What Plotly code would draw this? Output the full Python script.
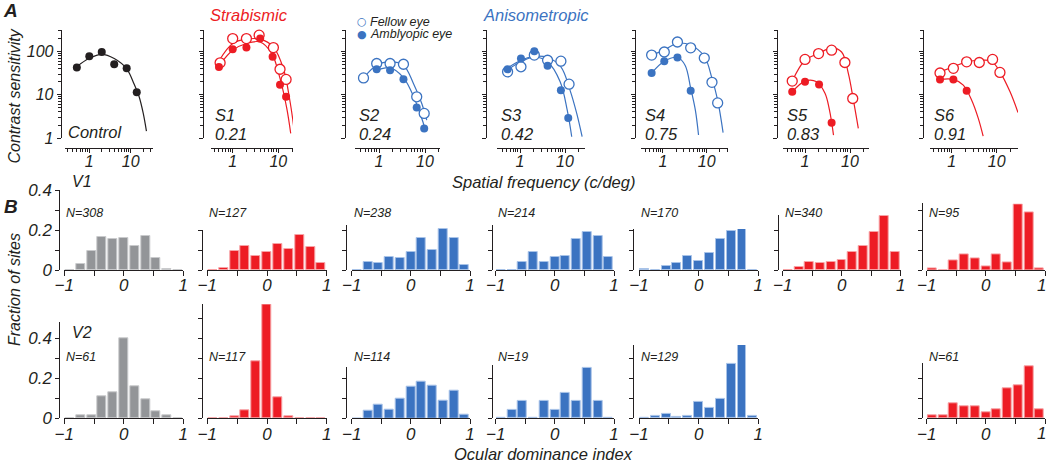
import plotly.graph_objects as go

W, H = 1050, 464
FONT = "Liberation Sans, Arial, Helvetica, sans-serif"
INK = "#231F20"
RED = "#ED1C24"
BLUE = "#3B73C1"
GRAY = "#939598"

# ---------------- panel A: contrast sensitivity data ----------------
ctrl_sf = [0.5, 1, 2, 4, 8, 14]
ctrl_cs = [43, 78, 98, 51, 41, 11.5]
ctrl_fit_sf = [0.5, 1, 2, 4, 8, 12, 16, 20, 24]
ctrl_fit_cs = [45, 70, 86, 69, 40, 18, 9, 3.8, 1.45]

s1_fel_sf = [0.53, 1.0, 2.0, 3.8, 7.8, 10.9, 14.8]
s1_fel_cs = [55, 200, 200, 240, 124, 39, 22.7]
s1_amb_sf = [0.5, 1.0, 2.0, 4.0, 7.5, 10.9, 14.8]
s1_amb_cs = [44, 114, 124, 200, 76, 17, 9]
s1_fel_fit_sf = [0.51, 1.0, 2.0, 3.97, 7.75, 12.9, 18.1, 22]
s1_fel_fit_cs = [63, 154, 194, 194, 129, 40.6, 6.9, 1.67]
s1_amb_fit_sf = [0.51, 1.0, 2.0, 4.0, 7.2, 10.9, 15.3, 18.7]
s1_amb_fit_cs = [48.6, 108, 154, 167, 90, 24, 4.9, 1.28]

s2_fel_sf = [0.46, 0.89, 1.74, 3.4, 6.6, 9.6]
s2_fel_cs = [24.6, 53, 53, 51, 9, 3.7]
s2_amb_sf = [0.89, 1.74, 3.4, 6.6, 9.6]
s2_amb_cs = [39, 37, 23, 5.1, 1.67]
s2_fel_fit_sf = [0.46, 0.89, 1.74, 3.4, 5.6, 8.5, 10.9]
s2_fel_fit_cs = [24.6, 48.5, 57.6, 48.5, 18.3, 6.3, 2.6]
s2_amb_fit_sf = [0.89, 1.74, 3.4, 6.1, 9.2, 10.3]
s2_amb_fit_cs = [37, 42, 25, 7.5, 2.2, 1.47]

s3_fel_sf = [0.53, 1.05, 2.08, 4.1, 8.1, 12.3]
s3_fel_cs = [34, 44.5, 83, 63, 60, 17.6]
s3_amb_sf = [0.53, 1.05, 2.08, 4.1, 8.1, 11.8]
s3_amb_cs = [39, 69, 102, 47, 12.8, 2.9]
s3_fel_fit_sf = [0.51, 1.05, 2.08, 4.1, 8.1, 12.9, 18.2, 24]
s3_fel_fit_cs = [40.6, 63, 78, 73, 44.5, 12.8, 3.7, 1.07]
s3_amb_fit_sf = [0.51, 1.05, 2.08, 4.1, 7.8, 11.2, 14.1]
s3_amb_fit_cs = [37, 58, 75, 58, 20, 4.4, 1.07]

s4_fel_sf = [0.55, 1.07, 2.14, 4.3, 8.8, 13.2, 17.8]
s4_fel_cs = [83, 98, 167, 122, 71, 19.4, 6.5]
s4_amb_sf = [0.55, 1.07, 2.14, 4.3]
s4_amb_cs = [32, 60, 73, 12.4]
s4_fel_fit_sf = [0.55, 1.05, 2.14, 4.3, 8.8, 13.2, 17.8, 23.7]
s4_fel_fit_cs = [83, 108, 156, 140, 78, 24, 7.5, 1.33]
s4_amb_fit_sf = [0.55, 1.07, 2.14, 3.2, 4.3, 5.5, 6.5]
s4_amb_fit_cs = [32, 60, 73, 48.5, 14.2, 4.4, 1.17]

s5_fel_sf = [0.52, 1.0, 2.0, 3.9, 7.7, 11.5]
s5_fel_cs = [20.8, 66, 90, 108, 56, 8.2]
s5_amb_sf = [0.52, 1.0, 2.05, 3.9]
s5_amb_cs = [11.7, 20, 17.4, 2.26]
s5_fel_fit_sf = [0.52, 1.0, 2.0, 3.9, 6.5, 9.2, 11.9, 15.3]
s5_fel_fit_cs = [20.8, 63, 90, 122, 98, 31, 7.5, 1.67]
s5_amb_fit_sf = [0.52, 1.0, 1.82, 2.78, 3.5, 4.3]
s5_amb_fit_cs = [11.7, 20.8, 20, 10.8, 4.4, 1.17]

s6_fel_sf = [0.55, 1.09, 2.15, 4.1, 8.1, 11.8]
s6_fel_cs = [32, 41, 58, 56, 66, 33]
s6_amb_sf = [0.55, 1.09, 2.15]
s6_amb_cs = [22.7, 22.7, 12.4]
s6_fel_fit_sf = [0.55, 1.09, 2.15, 4.3, 7.7, 11.8, 19.8, 29.7]
s6_fel_fit_cs = [34, 44.5, 58, 63, 60, 34, 11.7, 3.9]
s6_amb_fit_sf = [0.55, 1.09, 1.81, 2.78, 3.9, 5.0]
s6_amb_fit_cs = [22.7, 22.7, 16.7, 7.5, 2.85, 1.1]

subject_names = ["Control", "S1", "S2", "S3", "S4", "S5", "S6"]
subject_odi = ["", "0.21", "0.24", "0.42", "0.75", "0.83", "0.91"]

# ---------------- panel B: ocular dominance histograms ----------------
od_centers = [-0.909, -0.727, -0.545, -0.364, -0.182, 0.0, 0.182, 0.364, 0.545, 0.727, 0.909]

v1_control = [0, 0.03, 0.097, 0.163, 0.153, 0.162, 0.12, 0.17, 0.06, 0.005, 0]
v1_s1 = [0, 0.012, 0.097, 0.12, 0.072, 0.09, 0.13, 0.105, 0.175, 0.113, 0.035]
v1_s2 = [0, 0.042, 0.037, 0.067, 0.062, 0.092, 0.158, 0.1, 0.203, 0.162, 0.023]
v1_s3 = [0, 0.002, 0.042, 0.092, 0.042, 0.067, 0.07, 0.155, 0.188, 0.168, 0.067]
v1_s4 = [0.003, 0, 0.02, 0.033, 0.072, 0.047, 0.087, 0.155, 0.197, 0.205, 0]
v1_s5 = [0.002, 0.013, 0.042, 0.033, 0.042, 0.05, 0.088, 0.122, 0.192, 0.27, 0.088]
v1_s6 = [0.007, 0, 0.05, 0.08, 0.058, 0.017, 0.08, 0.038, 0.33, 0.288, 0.007]
v1_n = [308, 127, 238, 214, 170, 340, 95]

v2_control = [0, 0.017, 0.017, 0.112, 0.128, 0.4, 0.158, 0.095, 0.033, 0.017, 0]
v2_s1 = [0, 0, 0.012, 0.038, 0.287, 0.57, 0.105, 0.012, 0, 0, 0]
v2_s2 = [0, 0.037, 0.07, 0.045, 0.097, 0.158, 0.183, 0.165, 0.088, 0.14, 0.018]
v2_s3 = [0, 0.042, 0.085, 0, 0.085, 0.042, 0.127, 0.085, 0.25, 0.085, 0]
v2_s4 = [0, 0.013, 0.02, 0.007, 0.013, 0.08, 0.05, 0.095, 0.27, 0.37, 0.013]
v2_s6 = [0.013, 0.013, 0.075, 0.06, 0.06, 0.03, 0.045, 0.152, 0.167, 0.258, 0.045]
v2_n = [61, 117, 114, 19, 129, None, 61]

# ---------------- geometry (pixels) ----------------
def px(x):
    return x / W


def py(y):
    return 1 - y / H


# (y-axis x, x-axis start, x-axis end, log range lo, log range hi)
top_geom = [
    (60.7, 65, 153, -0.587, 1.539),
    (202.7, 210.7, 293, -0.482, 1.322),
    (345, 355, 440, -0.522, 1.326),
    (486, 497, 585, -0.511, 1.444),
    (635, 641, 728, -0.503, 1.487),
    (777, 783, 869, -0.489, 1.422),
    (923, 930, 1018, -0.482, 1.473),
]
hist_geom = [
    (59.3, 64.3, 183.3),
    (202.3, 207.3, 326.7),
    (345.7, 351.7, 470),
    (491.7, 495.7, 614),
    (633.3, 639, 758.3),
    (777.7, 782.7, 900.7),
    (922.3, 926.7, 1045),
]
v1_ymax = [0.4, 0.2, 0.225, 0.225, 0.205, 0.275, 0.333]
v2_ymax = [0.48, 0.57, 0.258, 0.267, 0.367, None, 0.275]

tickfont = dict(family=FONT, size=16, color=INK, style="italic")
axis_common = dict(showline=True, linecolor=INK, linewidth=1, ticks="outside",
                   tickcolor=INK, tickwidth=1, showgrid=False, zeroline=False,
                   anchor="free", automargin=False, tickfont=tickfont,
                   ticklabeloverflow="allow")

fig = go.Figure()
layout = {}
annotations = []
count = [0]


def new_axes(xopts, yopts):
    count[0] += 1
    n = count[0]
    sfx = "" if n == 1 else str(n)
    layout["xaxis" + sfx] = dict(axis_common, **xopts)
    layout["yaxis" + sfx] = dict(axis_common, **yopts)
    return "x" + sfx, "y" + sfx


def text(x, y, s, size=16, color=INK, xanchor="left", angle=0, weight="normal", style="italic", family=FONT):
    annotations.append(dict(x=px(x), y=py(y), xref="paper", yref="paper", text=s,
                            showarrow=False, xanchor=xanchor, yanchor="middle",
                            textangle=angle,
                            font=dict(family=family, size=size, color=color,
                                      style=style, weight=weight)))


# ---------------- top row ----------------
top_sets = [
    (INK, None, None, (ctrl_sf, ctrl_cs), (ctrl_fit_sf, ctrl_fit_cs)),
    (RED, (s1_fel_sf, s1_fel_cs), (s1_fel_fit_sf, s1_fel_fit_cs), (s1_amb_sf, s1_amb_cs), (s1_amb_fit_sf, s1_amb_fit_cs)),
    (BLUE, (s2_fel_sf, s2_fel_cs), (s2_fel_fit_sf, s2_fel_fit_cs), (s2_amb_sf, s2_amb_cs), (s2_amb_fit_sf, s2_amb_fit_cs)),
    (BLUE, (s3_fel_sf, s3_fel_cs), (s3_fel_fit_sf, s3_fel_fit_cs), (s3_amb_sf, s3_amb_cs), (s3_amb_fit_sf, s3_amb_fit_cs)),
    (BLUE, (s4_fel_sf, s4_fel_cs), (s4_fel_fit_sf, s4_fel_fit_cs), (s4_amb_sf, s4_amb_cs), (s4_amb_fit_sf, s4_amb_fit_cs)),
    (RED, (s5_fel_sf, s5_fel_cs), (s5_fel_fit_sf, s5_fel_fit_cs), (s5_amb_sf, s5_amb_cs), (s5_amb_fit_sf, s5_amb_fit_cs)),
    (RED, (s6_fel_sf, s6_fel_cs), (s6_fel_fit_sf, s6_fel_fit_cs), (s6_amb_sf, s6_amb_cs), (s6_amb_fit_sf, s6_amb_fit_cs)),
]

x_minor = [0.2, 0.3, 0.4, 0.5, 0.6, 0.7, 0.8, 0.9, 2, 3, 4, 5, 6, 7, 8, 9, 20, 30]
y_minor = [2, 3, 4, 5, 6, 7, 8, 9, 20, 30, 40, 50, 60, 70, 80, 90, 200, 300]

for i, (color, fel, fel_fit, amb, amb_fit) in enumerate(top_sets):
    yx, x0, x1, lo, hi = top_geom[i]
    xa, ya = new_axes(
        dict(domain=[px(x0), px(x1)], position=py(147.5), type="log", range=[lo, hi],
             tickvals=[1, 10], ticktext=["1", "10"], ticklen=4, ticklabelstandoff=-5,
             minor=dict(tickvals=x_minor, ticks="outside", ticklen=3, tickcolor=INK)),
        dict(domain=[py(138), py(30)], position=px(yx), type="log", range=[0, 2.5],
             tickvals=[1, 10, 100], ticktext=["1", "10", "100"], ticklen=4,
             showticklabels=(i == 0),
             minor=dict(tickvals=y_minor, ticks="outside", ticklen=3, tickcolor=INK)),
    )
    for fit in (fel_fit, amb_fit):
        if fit:
            fig.add_trace(go.Scatter(x=fit[0], y=fit[1], mode="lines", xaxis=xa, yaxis=ya,
                                     line=dict(color=color, width=1.2, shape="spline"),
                                     cliponaxis=False, hoverinfo="skip"))
    if fel:
        fig.add_trace(go.Scatter(x=fel[0], y=fel[1], mode="markers", xaxis=xa, yaxis=ya,
                                 marker=dict(symbol="circle", size=10, color="white",
                                             line=dict(color=color, width=1.3)),
                                 cliponaxis=False))
    fig.add_trace(go.Scatter(x=amb[0], y=amb[1], mode="markers", xaxis=xa, yaxis=ya,
                             marker=dict(symbol="circle", size=8, color=color, line=dict(width=0)),
                             cliponaxis=False))
    if i == 0:
        text(x0 + 1, 131.5, subject_names[i], size=16.5)
    else:
        text(x0 + 2, 115, subject_names[i], size=16.5)
        text(x0 + 2, 133.5, subject_odi[i], size=16.5)

# ---------------- histograms ----------------
v1_sets = [v1_control, v1_s1, v1_s2, v1_s3, v1_s4, v1_s5, v1_s6]
v2_sets = [v2_control, v2_s1, v2_s2, v2_s3, v2_s4, None, v2_s6]
hist_colors = [GRAY, RED, BLUE, BLUE, BLUE, RED, RED]
edge_colors = {GRAY: "#C9CACC", RED: "#F7A3A6", BLUE: "#A8C3E8"}
last = len(hist_geom) - 1

for base, sets, ymaxes, ns, nlabel_y in ((270, v1_sets, v1_ymax, v1_n, 213.3),
                                          (418.3, v2_sets, v2_ymax, v2_n, 356.7)):
    for i, vals in enumerate(sets):
        if vals is None:
            continue
        yx, x0, x1 = hist_geom[i]
        ymax = ymaxes[i]
        ticks = [t for t in [0, 0.1, 0.2, 0.3, 0.4, 0.5] if t <= ymax + 1e-9]
        labels = [("0" if t == 0 else "%.1f" % t) if (i == 0 and round(t * 10) % 2 == 0) else "" for t in ticks]
        # the right-edge label of the last panel sits at the page edge; write it as text
        xlabels = ["\u22121", "", "0", "", "" if i == last else "1"]
        xa, ya = new_axes(
            dict(domain=[px(x0), px(x1)], position=py(base), range=[-1, 1],
                 tickvals=[-1, -0.5, 0, 0.5, 1], ticktext=xlabels,
                 ticklen=5, ticklabelstandoff=-5, tickfont=dict(tickfont, size=17)),
            dict(domain=[py(base), py(base - ymax * 200)], position=px(yx), range=[0, ymax],
                 tickvals=ticks, ticktext=labels, ticklen=4, tickfont=dict(tickfont, size=17)),
        )
        c = hist_colors[i]
        fig.add_trace(go.Bar(x=od_centers, y=vals, width=0.15, xaxis=xa, yaxis=ya,
                             marker=dict(color=c, line=dict(color=edge_colors[c], width=1))))
        text(x0, nlabel_y, "N=%d" % ns[i], size=12.5)
        if i == last:
            text(1048, base + 15.5, "1", size=17, xanchor="right")

# ---------------- labels ----------------
text(1, 10, "A", size=19, weight="bold")
text(2, 207, "B", size=19, weight="bold")
text(249, 15, "Strabismic", size=16.5, color=RED, xanchor="center")
text(535.5, 15, "Anisometropic", size=16.5, color=BLUE, xanchor="center")
text(361.7, 21.7, "\u25CB", size=11, color=BLUE, xanchor="center", style="normal", family="DejaVu Sans")
text(361.7, 34.3, "\u25CF", size=11, color=BLUE, xanchor="center", style="normal", family="DejaVu Sans")
text(367.5, 21.7, "Fellow eye", size=12.5)
text(367.5, 34.3, "Amblyopic eye", size=12.5)
text(14, 96.5, "Contrast sensitivity", size=16, xanchor="center", angle=-90)
text(543, 181.7, "Spatial frequency (c/deg)", size=16.5, xanchor="center")
text(14, 290, "Fraction of sites", size=16, xanchor="center", angle=-90)
text(543, 454, "Ocular dominance index", size=16.5, xanchor="center")
text(70, 182, "V1", size=16)
text(70, 332, "V2", size=16)

fig.update_layout(layout)
fig.update_layout(
    width=W, height=H, autosize=False,
    margin=dict(l=0, r=0, t=0, b=0),
    paper_bgcolor="white", plot_bgcolor="rgba(0,0,0,0)",
    showlegend=False, bargap=0,
    annotations=annotations,
    font=dict(family=FONT, color=INK),
)

# page body has a default 8px margin; drop it so the figure sits at the window origin
fig.write_html("out.html", config={"displayModeBar": False},
               post_script="document.body.style.margin='0px';")
